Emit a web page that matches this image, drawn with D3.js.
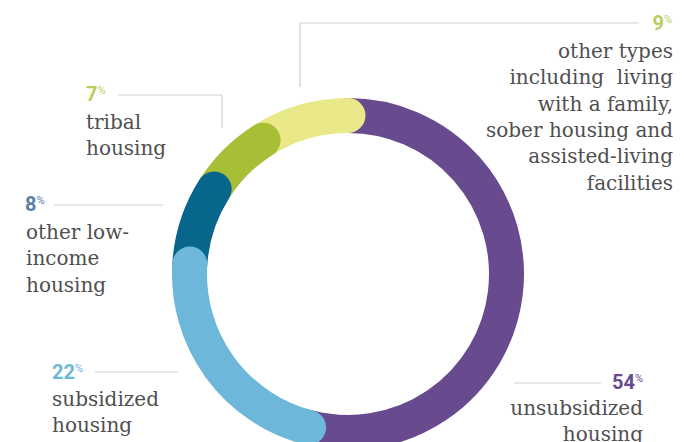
<!DOCTYPE html>
<html>
<head>
<meta charset="utf-8">
<script src="https://cdn.jsdelivr.net/npm/d3@7"></script>
<style>
  html, body { margin: 0; padding: 0; background: #fff; }
  svg { display: block; }
</style>
</head>
<body>
<svg id="chart" width="684" height="442"></svg>
<script>
// ---- data ----
const categories = ["unsubsidized housing", "subsidized housing", "other low-income housing", "tribal housing", "other types"];
const values = [54, 22, 8, 7, 9];
const ringColors = ["#684B8E", "#6DB7DA", "#08668C", "#A6BF37", "#E9E98A"];
const numberColors = ["#684B8E", "#6DB7DA", "#5B80A8", "#B7CE62", "#B7CE62"];
const labelLines = [
  ["unsubsidized", "housing"],
  ["subsidized", "housing"],
  ["other low-", "income", "housing"],
  ["tribal", "housing"],
  ["other types", "including  living", "with a family,", "sober housing and", "assisted-living", "facilities"]
];

// ---- layout (positions / styles) ----
const W = 684, H = 442;
const cx = 348, cy = 274, rOuter = 176, thickness = 35;
const rMid = rOuter - thickness / 2;
const lineStep = 26.3;
// per-label placement: number anchor, leader line, text block
const labelLayout = [
  { anchor: "end",   nx: 643, ny: 389, tx: 643, ty: 415, lines: [[514, 383, 601, 383]] },
  { anchor: "start", nx: 52,  ny: 379, tx: 52,  ty: 406, lines: [[95, 372, 178, 372]] },
  { anchor: "start", nx: 25,  ny: 211, tx: 26,  ty: 239, lines: [[54, 205, 163, 205]] },
  { anchor: "start", nx: 86,  ny: 101, tx: 86,  ty: 129, lines: [[118, 95, 222, 95], [222, 95, 222, 128]] },
  { anchor: "end",   nx: 672, ny: 30,  tx: 673, ty: 58,  lines: [[300, 23, 639, 23], [300, 23, 300, 87]] }
];

const svg = d3.select("#chart");

// ---- ring ----
const pie = d3.pie().sort(null).value(d => d).startAngle(0).endAngle(2 * Math.PI);
const arcs = pie(values);
const drawOrder = [0, 4, 3, 2, 1];

function arcLine(d) {
  const p = d3.path();
  p.arc(0, 0, rMid, d.startAngle - Math.PI / 2, d.endAngle - Math.PI / 2);
  return p.toString();
}

const ring = svg.append("g").attr("transform", `translate(${cx},${cy})`);
ring.selectAll("path")
  .data(drawOrder.map(i => ({ arc: arcs[i], i })))
  .join("path")
  .attr("d", d => arcLine(d.arc))
  .attr("fill", "none")
  .attr("stroke", d => ringColors[d.i])
  .attr("stroke-width", thickness)
  .attr("stroke-linecap", "round");

// ---- leader lines ----
const leaders = svg.append("g");
labelLayout.forEach(l => {
  l.lines.forEach(s => {
    leaders.append("line")
      .attr("x1", s[0]).attr("y1", s[1]).attr("x2", s[2]).attr("y2", s[3])
      .attr("stroke", "#cfcfcf").attr("stroke-width", 1.2);
  });
});

// ---- labels ----
const labels = svg.append("g");
values.forEach((v, i) => {
  const L = labelLayout[i];
  const num = labels.append("text")
    .attr("x", L.nx).attr("y", L.ny)
    .attr("text-anchor", L.anchor)
    .attr("fill", numberColors[i])
    .style("font-family", "Roboto, 'DejaVu Sans', sans-serif")
    .style("font-weight", "700");
  num.append("tspan").style("font-size", "20px").text(v);
  num.append("tspan").style("font-size", "11px").style("font-weight", "400").attr("dy", -7).text("%");

  const t = labels.append("text")
    .attr("text-anchor", L.anchor)
    .attr("fill", "#4f4f4f")
    .style("font-family", "'DejaVu Serif', serif")
    .style("font-size", "20px");
  labelLines[i].forEach((line, k) => {
    t.append("tspan")
      .attr("x", L.tx)
      .attr("y", L.ty + k * lineStep)
      .attr("xml:space", "preserve")
      .style("white-space", "pre")
      .text(line);
  });
});
</script>
</body>
</html>
